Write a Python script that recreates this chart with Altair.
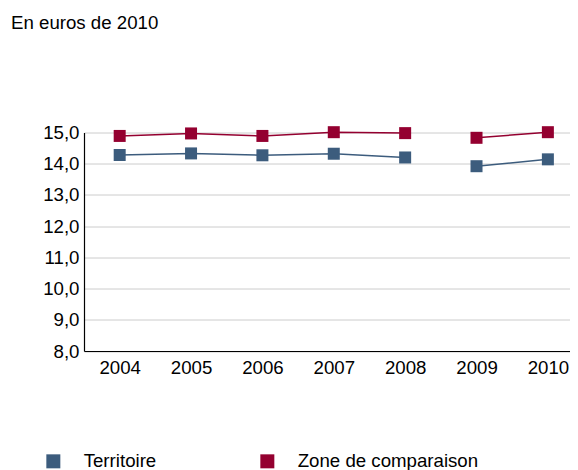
import altair as alt
import pandas as pd

years = [2004, 2005, 2006, 2007, 2008, 2009, 2010]
territoire = [14.28, 14.33, 14.27, 14.32, 14.20, 13.92, 14.14]
zone = [14.89, 14.97, 14.89, 15.01, 14.98, 14.83, 15.01]
periods = ["2004-2008"] * 5 + ["2009-2010"] * 2
series = ["Territoire", "Zone de comparaison"]
colors = ["#3c5c7d", "#940030"]
y_ticks = [8, 9, 10, 11, 12, 13, 14, 15]

rows = []
for name, vals in zip(series, [territoire, zone]):
    for yr, v, p in zip(years, vals, periods):
        rows.append({"annee": yr, "valeur": v, "serie": name, "periode": p})
df = pd.DataFrame(rows)

FONT = "Liberation Sans"
FS = 18.67

x = alt.X(
    "annee:Q",
    scale=alt.Scale(domain=[2003.5, 2010.31], nice=False, zero=False),
    axis=alt.Axis(
        values=years, format="d", title=None, grid=False, ticks=False,
        domainColor="black", domainWidth=1.2, labelPadding=7, labelFontSize=FS,
        labelColor="black", labelFont=FONT,
    ),
)
y = alt.Y(
    "valeur:Q",
    scale=alt.Scale(domain=[8, 15], nice=False, zero=False),
    axis=alt.Axis(
        values=y_ticks, title=None, ticks=False,
        labelExpr="replace(format(datum.value, '.1f'), '.', ',')",
        domainColor="black", domainWidth=1.2, gridColor="#cccccc", gridWidth=1,
        labelPadding=5, labelFontSize=FS, labelColor="black", labelFont=FONT,
    ),
)
color = alt.Color(
    "serie:N",
    scale=alt.Scale(domain=series, range=colors),
    legend=alt.Legend(
        title=None, orient="none", legendX=-40, legendY=319, direction="horizontal",
        symbolType="square", symbolSize=196, symbolStrokeWidth=0, symbolOpacity=1,
        labelFontSize=FS, labelFont=FONT, labelColor="black", labelOffset=21,
        columnPadding=101, labelLimit=400, padding=0,
    ),
)

base = alt.Chart(df).encode(x=x, y=y, color=color)
lines = base.mark_line(strokeWidth=1.5).encode(detail="periode:N")
points = base.mark_point(shape="square", filled=True, size=144, opacity=1)

chart = (
    alt.layer(lines, points)
    .properties(
        width=486,
        height=218.5,
        title=alt.TitleParams(
            "En euros de 2010", anchor="start", frame="group", dx=-73, offset=76,
            baseline="alphabetic", fontSize=FS, fontWeight="normal", font=FONT,
            color="black",
        ),
        autosize=alt.AutoSizeParams(type="none"),
        padding={"left": 76, "top": 124.5, "right": 0, "bottom": 119},
    )
    .configure_view(stroke=None)
)

chart.save("out.html", embed_options={"renderer": "svg", "actions": False})
